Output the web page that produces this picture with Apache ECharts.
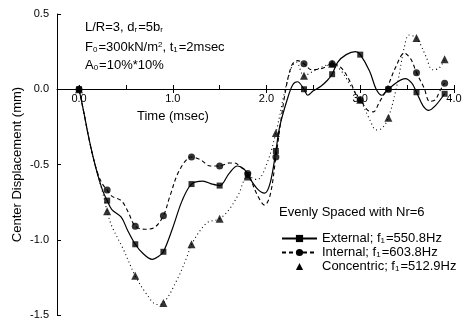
<!DOCTYPE html>
<html><head><meta charset="utf-8">
<script src="https://cdn.jsdelivr.net/npm/echarts@6/dist/echarts.min.js"></script>
<style>html,body{margin:0;padding:0;background:#fff}#c{width:468px;height:322px}</style>
</head><body><div id="c"></div>
<script>
// ---- data ----
const xLabelValues = [0, 1, 2, 3, 4];
const xTickValues = [0, 0.5, 1, 1.5, 2, 2.5, 3, 3.5, 4];
const seriesNames = ['External', 'Internal', 'Concentric'];
const legendLabels = ['External; f{sub|1}=550.8Hz', 'Internal; f{sub|1}=603.8Hz', 'Concentric; f{sub|1}=512.9Hz'];

const markerTimes = [0, 0.3, 0.6, 0.9, 1.2, 1.5, 1.8, 2.1, 2.4, 2.7, 3.0, 3.3, 3.6, 3.9];
const externalMarkers = [0, -0.74, -1.03, -1.08, -0.63, -0.64, -0.57, -0.41, 0.0, 0.10, 0.23, 0.0, -0.02, -0.03];
const internalMarkers = [0, -0.67, -0.91, -0.84, -0.45, -0.51, -0.56, -0.45, 0.17, 0.17, -0.07, 0.0, 0.11, 0.04];
const concentricMarkers = [0, -0.81, -1.24, -1.42, -1.03, -0.86, -0.58, -0.29, 0.09, 0.17, -0.07, -0.19, 0.34, 0.20];

const externalTimes = [0, 0.05, 0.1, 0.15, 0.2, 0.25, 0.3, 0.35, 0.45, 0.52, 0.6, 0.68, 0.78, 0.85, 0.9, 1.0, 1.1, 1.2, 1.32, 1.42, 1.5, 1.6, 1.69, 1.76, 1.8, 1.9, 1.98, 2.04, 2.1, 2.14, 2.22, 2.28, 2.33, 2.4, 2.44, 2.5, 2.58, 2.65, 2.7, 2.76, 2.85, 2.95, 3.0, 3.1, 3.17, 3.23, 3.3, 3.4, 3.48, 3.55, 3.6, 3.67, 3.73, 3.8, 3.9];
const externalValues = [0, -0.15, -0.31, -0.45, -0.57, -0.67, -0.74, -0.8, -0.85, -0.94, -1.03, -1.09, -1.13, -1.11, -1.08, -0.92, -0.74, -0.63, -0.61, -0.63, -0.64, -0.56, -0.51, -0.53, -0.57, -0.66, -0.69, -0.62, -0.41, -0.25, -0.07, 0.03, 0.05, 0.0, -0.04, -0.01, 0.02, 0.06, 0.10, 0.18, 0.23, 0.25, 0.23, 0.12, 0.0, -0.04, 0.0, 0.05, 0.07, 0.04, -0.02, -0.11, -0.14, -0.11, -0.03];

const internalTimes = [0, 0.05, 0.1, 0.15, 0.2, 0.25, 0.3, 0.35, 0.45, 0.52, 0.6, 0.7, 0.8, 0.9, 0.97, 1.07, 1.2, 1.3, 1.4, 1.5, 1.6, 1.66, 1.73, 1.8, 1.9, 1.98, 2.04, 2.1, 2.2, 2.27, 2.33, 2.4, 2.48, 2.6, 2.7, 2.8, 2.9, 2.95, 3.0, 3.08, 3.14, 3.2, 3.28, 3.38, 3.47, 3.54, 3.6, 3.68, 3.74, 3.8, 3.85, 3.9];
const internalValues = [0, -0.15, -0.31, -0.45, -0.56, -0.63, -0.67, -0.71, -0.74, -0.81, -0.91, -0.93, -0.92, -0.84, -0.71, -0.54, -0.45, -0.47, -0.51, -0.51, -0.49, -0.49, -0.52, -0.56, -0.7, -0.77, -0.7, -0.45, -0.02, 0.16, 0.19, 0.17, 0.13, 0.14, 0.17, 0.14, 0.04, -0.03, -0.07, -0.14, -0.15, -0.09, 0.0, 0.15, 0.24, 0.2, 0.11, 0.01, -0.08, -0.07, -0.01, 0.04];

const concentricTimes = [0, 0.05, 0.1, 0.15, 0.2, 0.25, 0.3, 0.35, 0.47, 0.6, 0.72, 0.83, 0.9, 1.05, 1.16, 1.2, 1.36, 1.5, 1.6, 1.7, 1.8, 1.9, 2.0, 2.1, 2.2, 2.27, 2.32, 2.4, 2.5, 2.6, 2.7, 2.8, 2.9, 3.0, 3.1, 3.17, 3.23, 3.3, 3.4, 3.47, 3.52, 3.6, 3.7, 3.77, 3.84, 3.9];
const concentricValues = [0, -0.15, -0.31, -0.45, -0.57, -0.68, -0.81, -0.91, -1.06, -1.24, -1.36, -1.43, -1.42, -1.26, -1.1, -1.03, -0.89, -0.86, -0.8, -0.7, -0.58, -0.6, -0.5, -0.29, 0.0, 0.15, 0.18, 0.09, 0.12, 0.15, 0.17, 0.12, 0.02, -0.07, -0.2, -0.27, -0.26, -0.19, 0.05, 0.28, 0.36, 0.34, 0.22, 0.13, 0.14, 0.20];

// ---- chart ----
const FONT = 'Arial, "Liberation Sans", sans-serif';
const X_MIN = -0.235, X_MAX = 4;
const pair = (ts, vs) => ts.map((t, i) => [t, vs[i]]);
const chart = echarts.init(document.getElementById('c'), null, {renderer: 'canvas'});

const lineDefs = [
  {name: seriesNames[0], t: externalTimes, v: externalValues, sym: 'rect', size: 6, type: 'solid', width: 1.2, mt: externalMarkers},
  {name: seriesNames[1], t: internalTimes, v: internalValues, sym: 'circle', size: 7, type: [4, 3], width: 1.1, mt: internalMarkers},
  {name: seriesNames[2], t: concentricTimes, v: concentricValues, sym: 'triangle', size: 8, type: [1, 3], width: 1.1, mt: concentricMarkers}
];

const series = [];
lineDefs.forEach(d => {
  series.push({
    name: d.name, type: 'line', data: pair(d.t, d.v), smooth: 0.35,
    xAxisIndex: 0, yAxisIndex: 0,
    showSymbol: false, symbol: d.sym, symbolSize: d.size,
    lineStyle: {color: '#000', width: d.width, type: d.type},
    itemStyle: {color: '#000'}, silent: true, z: 2
  });
});
lineDefs.forEach(d => {
  series.push({
    name: d.name + ' markers', type: 'scatter', data: pair(markerTimes, d.mt),
    xAxisIndex: 0, yAxisIndex: 0,
    symbol: d.sym, symbolSize: d.size, itemStyle: {color: '#000'}, silent: true, z: 3
  });
});

const rich = {
  sub: {fontSize: 8, fontFamily: FONT, color: '#000', verticalAlign: 'bottom', lineHeight: 8, padding: [0, 1, 0, 0]},
  sup: {fontSize: 8, fontFamily: FONT, color: '#000', verticalAlign: 'top', lineHeight: 8}
};

chart.setOption({
  animation: false,
  backgroundColor: '#fff',
  grid: [
    {left: 57, right: 14, top: 14, bottom: 7, containLabel: false, outerBoundsMode: 'none'},
    {left: 57, right: 14, top: 89, height: 0, containLabel: false, outerBoundsMode: 'none'}
  ],
  xAxis: [
    {gridIndex: 0, type: 'value', min: X_MIN, max: X_MAX, show: false, splitLine: {show: false}},
    {
      gridIndex: 1, type: 'value', min: X_MIN, max: X_MAX, position: 'bottom',
      axisLine: {onZero: false, lineStyle: {color: '#000', width: 1}},
      axisTick: {inside: false, length: 4, customValues: xLabelValues, lineStyle: {color: '#000'}},
      axisLabel: {customValues: xLabelValues, formatter: v => v.toFixed(1), color: '#000', fontSize: 11, fontFamily: FONT, margin: 4},
      splitLine: {show: false}
    },
    {
      gridIndex: 1, type: 'value', min: X_MIN, max: X_MAX, position: 'top',
      axisLine: {show: false, onZero: false},
      axisTick: {inside: false, length: 4, customValues: xTickValues, lineStyle: {color: '#000'}},
      axisLabel: {show: false},
      splitLine: {show: false}
    }
  ],
  yAxis: [
    {
      gridIndex: 0, type: 'value', min: -1.5, max: 0.5, interval: 0.5,
      name: 'Center Displacement (mm)', nameLocation: 'middle', nameGap: 33, nameMoveOverlap: false,
      nameTextStyle: {color: '#000', fontSize: 13, fontFamily: FONT},
      axisLine: {show: true, onZero: false, lineStyle: {color: '#000', width: 1}},
      axisTick: {inside: true, length: 4, lineStyle: {color: '#000'}},
      axisLabel: {formatter: v => v.toFixed(1), color: '#000', fontSize: 11, fontFamily: FONT, margin: 8},
      splitLine: {show: false}
    },
    {gridIndex: 1, type: 'value', min: 0, max: 1, show: false, splitLine: {show: false}}
  ],
  legend: {
    orient: 'vertical', left: 276, top: 227, itemWidth: 35, itemHeight: 9, itemGap: 1,
    symbolKeepAspect: true,
    data: [
      {name: seriesNames[0]},
      {name: seriesNames[1]},
      {name: seriesNames[2], lineStyle: {opacity: 0}}
    ],
    formatter: name => legendLabels[seriesNames.indexOf(name)],
    textStyle: {color: '#000', fontSize: 13, fontFamily: FONT, lineHeight: 13, rich: rich},
    selectedMode: false
  },
  graphic: [
    {type: 'text', left: 85, top: 21, style: {text: 'L/R=3, d{sub|r}=5b{sub|r}', font: '13px ' + FONT, fill: '#000', rich: rich}},
    {type: 'text', left: 85, top: 41, style: {text: 'F{sub|0}=300kN/m{sup|2}, t{sub|1}=2msec', font: '13px ' + FONT, fill: '#000', rich: rich}},
    {type: 'text', left: 85, top: 59, style: {text: 'A{sub|0}=10%*10%', font: '13px ' + FONT, fill: '#000', rich: rich}},
    {type: 'text', left: 137, top: 110, style: {text: 'Time (msec)', font: '13px ' + FONT, fill: '#000'}},
    {type: 'text', left: 279, top: 206, style: {text: 'Evenly Spaced with Nr=6', font: '13px ' + FONT, fill: '#000'}}
  ],
  series: series
});
</script>
</body></html>
